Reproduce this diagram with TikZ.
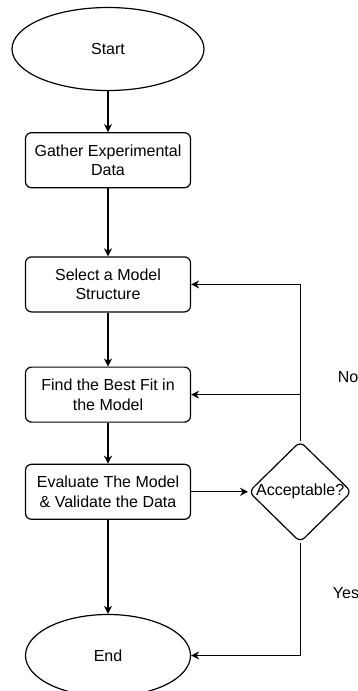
\documentclass[tikz,border=0pt]{standalone}
\usepackage{fontspec}
\setmainfont{Liberation Sans}
\usetikzlibrary{arrows.meta,positioning,shapes.geometric}

\begin{document}
\begin{tikzpicture}[x=1pt,y=1pt,line width=1.2pt,>={Stealth[length=8pt,width=8pt,inset=2.5pt]},
  every node/.style={font=\fontsize{16}{19.5}\selectfont},
  term/.style={draw,ellipse,inner sep=0pt},
  proc/.style={draw,rounded corners=6pt,minimum width=165pt,minimum height=55pt,align=center,inner sep=0pt},
  decision/.style={draw,diamond,rounded corners=6pt,minimum width=103pt,minimum height=101pt,inner sep=0pt}]
\useasboundingbox (0,0) rectangle (358,-691);
\node (start) [term, minimum width=192pt, minimum height=83pt] at (108,-49) {Start};
\node (gather) [proc, below=41pt of start] {Gather Experimental\\Data};
\node (select) [proc, below=68pt of gather] {Select a Model\\Structure};
\node (find) [proc, below=54pt of select] {Find the Best Fit in\\the Model};
\node (eval) [proc, below=41pt of find] {Evaluate The Model\\\& Validate the Data};
\node (end) [term, minimum width=165pt, minimum height=82pt, below=94pt of eval] {End};
\node (ok) [decision, right=57pt of eval] {\makebox[0pt]{Acceptable?}};
\node (no) [anchor=west] at (334,-377) {No};
\node (yes) [anchor=west] at (329,-593) {Yes};
\draw[->] (start) -- (gather);
\draw[->] (gather) -- (select);
\draw[->] (select) -- (find);
\draw[->] (find) -- (eval);
\draw[->] (eval) -- (end);
\draw[->] (eval) -- (ok);
\draw[->] (ok.north) |- (select.east);
\draw[->] (ok.north) |- (find.east);
\draw[->] (ok.south) |- (end.east);
\end{tikzpicture}
\end{document}
